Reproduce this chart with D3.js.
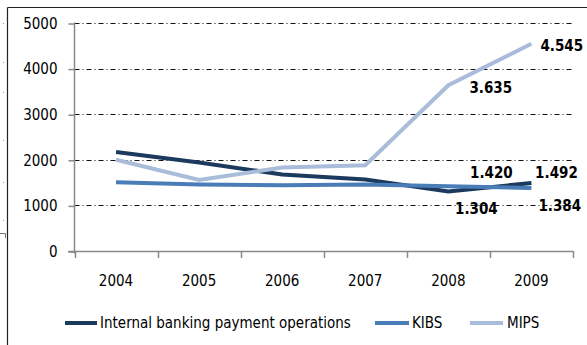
<!DOCTYPE html>
<html>
<head>
<meta charset="utf-8">
<script src="https://cdn.jsdelivr.net/npm/d3@7"></script>
<style>
  html, body { margin: 0; padding: 0; background: #fff; }
  svg { display: block; }
  text { font-family: "DejaVu Sans Condensed", "DejaVu Sans", Verdana, sans-serif; font-stretch: condensed; }
</style>
</head>
<body>
<svg id="chart" width="587" height="345"></svg>
<script>
// Payment operations by system, 2004–2009
const years = ["2004", "2005", "2006", "2007", "2008", "2009"];
const internalBanking = [2170, 1940, 1680, 1570, 1304, 1492];
const kibs = [1505, 1460, 1440, 1460, 1420, 1384];
const mips = [2000, 1560, 1830, 1880, 3635, 4545];
const yTicks = [0, 1000, 2000, 3000, 4000, 5000];
const seriesNames = ["Internal banking payment operations", "KIBS", "MIPS"];

const colors = ["#1B3A5E", "#4A7DB8", "#A9BCDA"];

// Value labels: series index, year index, pixel offset of the label from its point
const labelPlacement = [
  { s: 2, i: 5, dx: 9,  dy: 2,  anchor: "start" },
  { s: 2, i: 4, dx: 21, dy: 3,  anchor: "start" },
  { s: 1, i: 4, dx: 43, dy: -13, anchor: "middle" },
  { s: 0, i: 4, dx: 28, dy: 17, anchor: "middle" },
  { s: 0, i: 5, dx: 25, dy: -10, anchor: "middle" },
  { s: 1, i: 5, dx: 7,  dy: 18, anchor: "start" }
];

const series = [internalBanking, kibs, mips];
const svg = d3.select("#chart");

// Outer frame fragments
svg.append("line").attr("x1", 7.5).attr("x2", 587).attr("y1", 7.5).attr("y2", 7.5)
  .attr("stroke", "#222").attr("stroke-width", 1.2);
svg.append("line").attr("x1", 7.5).attr("x2", 7.5).attr("y1", 7.5).attr("y2", 345)
  .attr("stroke", "#222").attr("stroke-width", 1.2);
[23, 62, 92, 140, 182, 220].forEach(y => {
  svg.append("rect").attr("x", 3).attr("y", y).attr("width", 1).attr("height", 1).attr("fill", "#999");
});
svg.append("path").attr("d", "M0,233.5H5.5V238").attr("fill", "none").attr("stroke", "#777").attr("stroke-width", 1);

const x = d3.scaleBand().domain(years).range([74.5, 573]);
const y = d3.scaleLinear().domain([0, 5000]).range([251, 23]);

// Gridlines
svg.append("g").selectAll("line")
  .data(yTicks.filter(t => t > 0))
  .join("line")
  .attr("x1", 74.5).attr("x2", 573)
  .attr("y1", d => Math.round(y(d)) + 0.5).attr("y2", d => Math.round(y(d)) + 0.5)
  .attr("stroke", "#111").attr("stroke-width", 1)
  .attr("stroke-dasharray", "5,3,1,3");

// Y axis
const yAxis = svg.append("g").attr("transform", "translate(74.5,0.5)")
  .call(d3.axisLeft(y).tickValues(yTicks).tickFormat(d3.format("d"))
    .tickSize(6).tickPadding(11).tickSizeOuter(0));
yAxis.select(".domain").attr("stroke", "#8a8a8a").attr("stroke-width", 1.5).attr("d", "M0,22V253");
yAxis.selectAll(".tick line").attr("stroke", "#8a8a8a").attr("stroke-width", 1.5);
yAxis.selectAll("text").attr("font-size", 15).attr("fill", "#000")
  .style("font-family", "\"DejaVu Sans Condensed\", \"DejaVu Sans\", sans-serif");

// X axis
const xAxis = svg.append("g").attr("transform", "translate(0,251.5)")
  .call(d3.axisBottom(x).tickSize(0).tickPadding(24).tickSizeOuter(0));
xAxis.select(".domain").attr("stroke", "#8a8a8a").attr("stroke-width", 1.5).attr("d", "M68,0H573");
xAxis.selectAll("text").attr("font-size", 15).attr("fill", "#000")
  .style("font-family", "\"DejaVu Sans Condensed\", \"DejaVu Sans\", sans-serif");
svg.append("g").selectAll("line")
  .data(years.map(d => x(d)).concat([x.range()[1]]))
  .join("line")
  .attr("x1", d => Math.round(d) + 0.5).attr("x2", d => Math.round(d) + 0.5)
  .attr("y1", 251).attr("y2", 258)
  .attr("stroke", "#8a8a8a").attr("stroke-width", 1.5);

// Lines
const line = d3.line()
  .x((d, i) => x(years[i]) + x.bandwidth() / 2)
  .y(d => y(d));
series.forEach((vals, s) => {
  svg.append("path").datum(vals)
    .attr("d", line)
    .attr("fill", "none")
    .attr("stroke", colors[s])
    .attr("stroke-width", 4);
});

// Value labels
const fmt = v => (v / 1000).toFixed(3);
svg.append("g").selectAll("text")
  .data(labelPlacement)
  .join("text")
  .attr("x", d => x(years[d.i]) + x.bandwidth() / 2 + d.dx)
  .attr("y", d => y(series[d.s][d.i]) + d.dy)
  .attr("dy", "0.35em")
  .attr("text-anchor", d => d.anchor)
  .attr("font-size", 15).attr("font-weight", "bold").attr("fill", "#000")
  .text(d => fmt(series[d.s][d.i]));

// Legend
const legendItems = [
  { x1: 65, x2: 97, tx: 100 },
  { x1: 375, x2: 409, tx: 412 },
  { x1: 470, x2: 503, tx: 507 }
];
const legend = svg.append("g");
legendItems.forEach((it, s) => {
  legend.append("line").attr("x1", it.x1).attr("x2", it.x2).attr("y1", 323).attr("y2", 323)
    .attr("stroke", colors[s]).attr("stroke-width", 4);
  legend.append("text").attr("x", it.tx).attr("y", 323).attr("dy", "0.35em")
    .attr("font-size", 15).attr("fill", "#000").text(seriesNames[s]);
});
</script>
</body>
</html>
